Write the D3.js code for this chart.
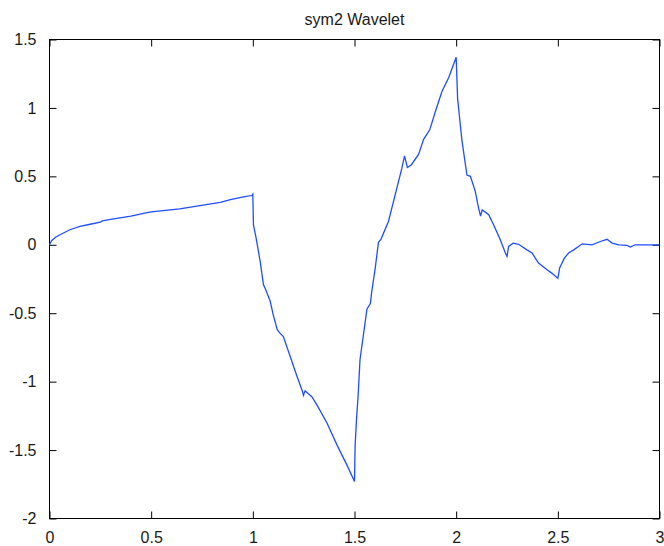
<!DOCTYPE html>
<html>
<head>
<meta charset="utf-8">
<script src="https://cdn.jsdelivr.net/npm/d3@7"></script>
<style>
  body { margin: 0; background: #fff; }
  svg { display: block; }
  text { font-family: "Liberation Sans", Arial, sans-serif; fill: #1a1a1a; }
</style>
</head>
<body>
<svg id="chart" width="664" height="546"></svg>
<script>
// wavelet samples
const xs = [0, 0.01, 0.03, 0.052, 0.1, 0.15, 0.2, 0.25, 0.26, 0.3, 0.4, 0.48, 0.5, 0.64, 0.84, 0.89, 0.954, 0.995, 1.0,
  1.003, 1.016, 1.036, 1.052, 1.064, 1.085, 1.10, 1.12, 1.13, 1.15, 1.18, 1.217, 1.244, 1.249, 1.257, 1.29, 1.315,
  1.364, 1.413, 1.463, 1.5, 1.503, 1.51, 1.518, 1.527, 1.553, 1.561, 1.578, 1.585, 1.602, 1.618, 1.63, 1.667, 1.70,
  1.733, 1.746, 1.76, 1.78, 1.815, 1.84, 1.87, 1.897, 1.93, 1.963, 2.0, 2.007, 2.017, 2.029, 2.053, 2.07, 2.094,
  2.11, 2.12, 2.128, 2.16, 2.184, 2.217, 2.242, 2.25, 2.258, 2.28, 2.307, 2.348, 2.373, 2.405, 2.447, 2.47, 2.5,
  2.509, 2.532, 2.553, 2.578, 2.62, 2.668, 2.709, 2.742, 2.767, 2.8, 2.84, 2.857, 2.88, 3];
const ys = [0, 0.03, 0.055, 0.073, 0.11, 0.135, 0.15, 0.165, 0.175, 0.185, 0.21, 0.235, 0.24, 0.263, 0.31, 0.33, 0.35, 0.36, 0.37,
  0.146, 0.05, -0.12, -0.29, -0.33, -0.41, -0.51, -0.62, -0.64, -0.67, -0.80, -0.96, -1.07, -1.10, -1.067, -1.11, -1.17,
  -1.30, -1.46, -1.61, -1.73, -1.47, -1.27, -1.10, -0.84, -0.56, -0.47, -0.43, -0.34, -0.17, 0.02, 0.04, 0.17, 0.365,
  0.56, 0.65, 0.565, 0.585, 0.66, 0.77, 0.84, 0.97, 1.12, 1.22, 1.37, 1.07, 0.925, 0.755, 0.51, 0.50, 0.39,
  0.27, 0.21, 0.255, 0.22, 0.146, 0.037, -0.06, -0.085, -0.012, 0.012, 0.004, -0.037, -0.06, -0.134, -0.183, -0.207, -0.245,
  -0.17, -0.098, -0.06, -0.037, 0.007, 0, 0.024, 0.04, 0.012, 0, -0.005, -0.017, 0, 0];
const xTicks = [0, 0.5, 1, 1.5, 2, 2.5, 3];
const yTicks = [-2, -1.5, -1, -0.5, 0, 0.5, 1, 1.5];
const title = "sym2 Wavelet";

const plotLeft = 49.5, plotRight = 659.5, plotTop = 39.5, plotBottom = 518.5;
const svg = d3.select("#chart");

const x = d3.scaleLinear().domain([0, 3]).range([plotLeft, plotRight]);
const y = d3.scaleLinear().domain([-2, 1.5]).range([plotBottom, plotTop]);

// plain hyphen minus like matlab
const fmt = d => String(d);

// axes, MATLAB style: ticks inside on all four sides
const tickLen = 7;
svg.append("g")
    .attr("transform", "translate(0," + plotBottom + ")")
    .call(d3.axisBottom(x).tickValues(xTicks).tickSizeInner(-tickLen).tickSizeOuter(0).tickPadding(13).tickFormat(fmt))
    .call(g => g.select(".domain").remove());
svg.append("g")
    .attr("transform", "translate(0," + plotTop + ")")
    .call(d3.axisTop(x).tickValues(xTicks).tickSizeInner(-tickLen).tickSizeOuter(0).tickFormat(""))
    .call(g => g.select(".domain").remove());
svg.append("g")
    .attr("transform", "translate(" + plotLeft + ",0)")
    .call(d3.axisLeft(y).tickValues(yTicks).tickSizeInner(-tickLen).tickSizeOuter(0).tickPadding(13).tickFormat(fmt))
    .call(g => g.select(".domain").remove());
svg.append("g")
    .attr("transform", "translate(" + plotRight + ",0)")
    .call(d3.axisRight(y).tickValues(yTicks).tickSizeInner(-tickLen).tickSizeOuter(0).tickFormat(""))
    .call(g => g.select(".domain").remove());

svg.selectAll(".tick line").attr("stroke", "#000");
svg.selectAll(".tick text")
    .style("font-family", "'Liberation Sans', Arial, sans-serif")
    .style("font-size", "16px")
    .attr("fill", "#1a1a1a");

svg.append("rect")
    .attr("x", plotLeft).attr("y", plotTop)
    .attr("width", plotRight - plotLeft).attr("height", plotBottom - plotTop)
    .attr("fill", "none").attr("stroke", "#000").attr("stroke-width", 1);

const line = d3.line()
    .x((d, i) => x(xs[i]))
    .y(d => y(d));

svg.append("path")
    .datum(ys)
    .attr("fill", "none")
    .attr("stroke", "#1f4dff")
    .attr("stroke-width", 1.3)
    .attr("d", line);

svg.append("text")
    .attr("x", (plotLeft + plotRight) / 2)
    .attr("y", 25)
    .attr("text-anchor", "middle")
    .style("font-size", "16px")
    .text(title);
</script>
</body>
</html>
